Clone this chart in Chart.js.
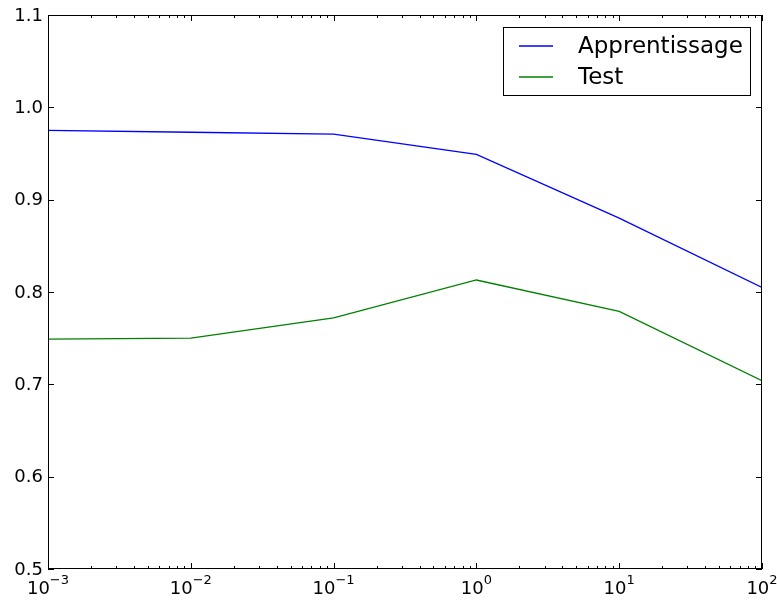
<!DOCTYPE html>
<html>
<head>
<meta charset="utf-8">
<script src="https://cdn.jsdelivr.net/npm/chart.js@4/dist/chart.umd.min.js"></script>
<style>
  html, body { margin: 0; padding: 0; background: #fff; }
  #wrap { width: 777px; height: 601px; }
</style>
</head>
<body>
<div id="wrap"><canvas id="chart"></canvas></div>
<script>
// values
const cValues = [1e-3, 1e-2, 1e-1, 1, 10, 100];
const trainScores = [0.975, 0.973, 0.971, 0.949, 0.880, 0.805];
const testScores = [0.749, 0.750, 0.772, 0.813, 0.779, 0.704];
const yTicks = [0.5, 0.6, 0.7, 0.8, 0.9, 1.0, 1.1];
const xTickExponents = [-3, -2, -1, 0, 1, 2];
const seriesNames = ['Apprentissage', 'Test'];
const seriesColors = ['#0000ff', '#008000'];

const FONT = '"DejaVu Sans", sans-serif';

// matplotlib-like frame, inward ticks, labels and legend
const mplLook = {
  id: 'mplLook',
  afterDraw(chart) {
    const ctx = chart.ctx;
    const a = chart.chartArea;
    const xs = chart.scales.x;
    const ys = chart.scales.y;
    ctx.save();
    ctx.strokeStyle = '#000';
    ctx.lineWidth = 1;

    // frame
    ctx.strokeRect(a.left + 0.5, a.top + 0.5, a.right - a.left - 1, a.bottom - a.top - 1);

    // y ticks
    ctx.beginPath();
    yTicks.forEach(v => {
      const y = Math.round(ys.getPixelForValue(v)) + 0.5;
      ctx.moveTo(a.left, y); ctx.lineTo(a.left + 6, y);
      ctx.moveTo(a.right, y); ctx.lineTo(a.right - 6, y);
    });
    // x major and minor ticks
    xTickExponents.forEach((e, i) => {
      const base = Math.pow(10, e);
      const x = Math.round(xs.getPixelForValue(base)) + 0.5;
      ctx.moveTo(x, a.bottom); ctx.lineTo(x, a.bottom - 6);
      ctx.moveTo(x, a.top); ctx.lineTo(x, a.top + 6);
      if (i < xTickExponents.length - 1) {
        for (let m = 2; m <= 9; m++) {
          const xm = Math.round(xs.getPixelForValue(base * m)) + 0.5;
          ctx.moveTo(xm, a.bottom); ctx.lineTo(xm, a.bottom - 3);
          ctx.moveTo(xm, a.top); ctx.lineTo(xm, a.top + 3);
        }
      }
    });
    ctx.stroke();

    // y labels
    ctx.fillStyle = '#000';
    ctx.font = '18px ' + FONT;
    ctx.textAlign = 'right';
    ctx.textBaseline = 'middle';
    yTicks.forEach(v => {
      ctx.fillText(v.toFixed(1), a.left - 5, ys.getPixelForValue(v) + 1);
    });

    // x labels: 10 with superscript exponent
    ctx.textBaseline = 'alphabetic';
    ctx.textAlign = 'left';
    xTickExponents.forEach(e => {
      const x = xs.getPixelForValue(Math.pow(10, e));
      ctx.font = '18px ' + FONT;
      const wBase = ctx.measureText('10').width;
      ctx.font = '13px ' + FONT;
      const expTxt = e < 0 ? '\u2212' + (-e) : String(e);
      const wExp = ctx.measureText(expTxt).width;
      const start = x - (wBase + wExp) / 2;
      ctx.font = '18px ' + FONT;
      ctx.fillText('10', start, 594);
      ctx.font = '13px ' + FONT;
      ctx.fillText(expTxt, start + wBase, 584);
    });

    // legend
    ctx.strokeStyle = '#000';
    ctx.strokeRect(503.5, 27.5, 247, 68);
    ctx.font = '23px ' + FONT;
    ctx.textBaseline = 'middle';
    seriesNames.forEach((name, i) => {
      const y = 46 + i * 31;
      ctx.strokeStyle = seriesColors[i];
      ctx.lineWidth = 1.3;
      ctx.beginPath();
      ctx.moveTo(519, y); ctx.lineTo(553, y);
      ctx.stroke();
      ctx.fillStyle = '#000';
      ctx.fillText(name, 578, y + 1);
    });
    ctx.restore();
  }
};

const toPoints = vals => vals.map((v, i) => ({ x: cValues[i], y: v }));

new Chart(document.getElementById('chart'), {
  type: 'line',
  data: {
    datasets: [
      { label: seriesNames[0], data: toPoints(trainScores), borderColor: seriesColors[0], borderWidth: 1.3, pointRadius: 0, tension: 0, fill: false },
      { label: seriesNames[1], data: toPoints(testScores), borderColor: seriesColors[1], borderWidth: 1.3, pointRadius: 0, tension: 0, fill: false }
    ]
  },
  options: {
    responsive: true,
    maintainAspectRatio: false,
    animation: false,
    layout: { padding: { left: 48, right: 15, top: 15, bottom: 32 } },
    plugins: { legend: { display: false }, tooltip: { enabled: false } },
    scales: {
      x: { type: 'logarithmic', min: 1e-3, max: 100, display: false },
      y: { type: 'linear', min: 0.5, max: 1.1, display: false }
    }
  },
  plugins: [mplLook]
});
</script>
</body>
</html>
